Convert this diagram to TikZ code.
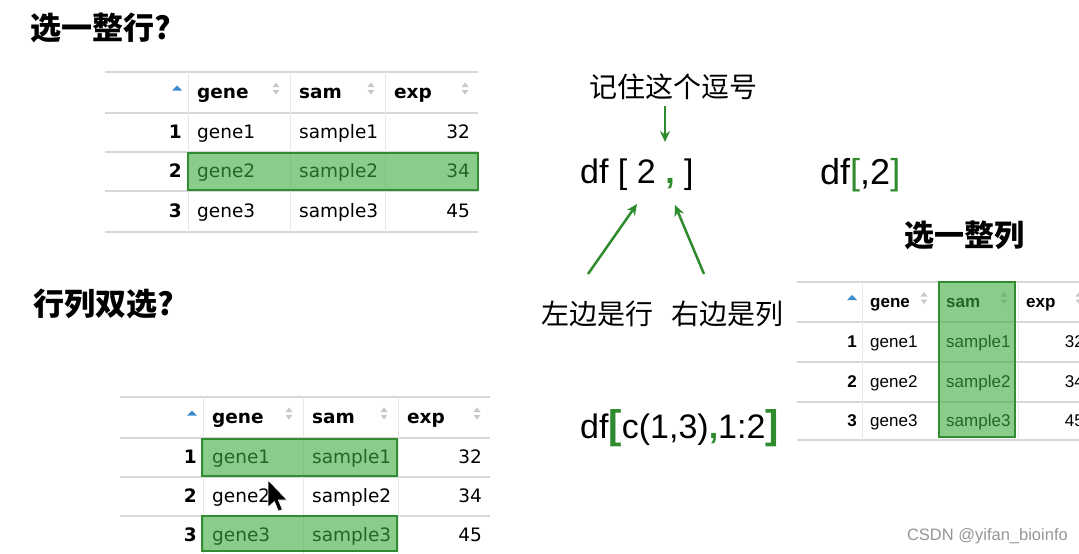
\documentclass[tikz,border=0pt]{standalone}
\usepackage{fontspec}
\setmainfont{Liberation Sans}
\newfontfamily\cjk{Noto Sans CJK SC}
\newfontfamily\tblf{DejaVu Sans}
\usetikzlibrary{arrows.meta}
\definecolor{grn}{RGB}{46,139,46}
\definecolor{hlfill}{RGB}{60,170,60}
\definecolor{hlborder}{RGB}{50,140,50}
\definecolor{gridc}{RGB}{215,215,215}
\definecolor{vgridc}{RGB}{232,232,232}
\definecolor{sortc}{RGB}{200,200,200}
\definecolor{bluec}{RGB}{60,140,205}
\definecolor{markc}{RGB}{150,150,150}
\tikzset{
  hline/.style={draw=gridc, line width=1.2pt},
  vline/.style={draw=vgridc, line width=1pt},
  cell/.style={inner sep=0pt, anchor=mid west},
  num/.style={inner sep=0pt, anchor=mid east},
  hl/.style={fill=hlfill, fill opacity=0.6, draw=hlborder, draw opacity=1, line width=2.5pt},
  garrow/.style={draw=grn, line width=2.5pt, -{Stealth[length=11pt,width=10pt]}},
  lbl/.style={inner sep=0pt},
}
\newcommand\sorticon[2]{%
  \fill[sortc] (#1-3.5,#2-1.5) -- (#1+3.5,#2-1.5) -- (#1,#2-6) -- cycle;
  \fill[sortc] (#1-3.5,#2+1.5) -- (#1+3.5,#2+1.5) -- (#1,#2+6) -- cycle;}
\newcommand\mytable[2]{%
  \pgfmathsetmacro\ra{(\ya+\yb)/2}%
  \pgfmathsetmacro\rb{(\yb+\yc)/2+3}%
  \pgfmathsetmacro\rc{(\yc+\yd)/2+3}%
  \pgfmathsetmacro\rd{(\yd+\ye)/2+3}%
  \draw[hline] (\xa,\ya) -- (\xe,\ya);
  \foreach \yy in {\yb,\yc,\yd,\ye} {\draw[hline] (\xa,\yy) -- (\xe,\yy);}
  \foreach \xx in {\xb,\xc,\xd} {\draw[vline] (\xx,\ya) -- (\xx,\ye);}
  \fill[bluec] (\xb-\np-10,\ra-2) -- (\xb-\np,\ra-2) -- (\xb-\np-5,\ra-7) -- cycle;
  \node[cell,font=#2\bfseries] (#1h1) at (\xb+\lp,\ra+3) {gene};
  \node[cell,font=#2\bfseries] (#1h2) at (\xc+\lp,\ra+3) {sam};
  \node[cell,font=#2\bfseries] (#1h3) at (\xd+\lp,\ra+3) {exp};
  \sorticon{\xc-14}{\ra-4}
  \sorticon{\xd-14}{\ra-4}
  \sorticon{\xe-13}{\ra-4}
  \foreach \i/\r/\v in {1/\rb/32, 2/\rc/34, 3/\rd/45} {
    \node[num,font=#2\bfseries] (#1n\i) at (\xb-\np,\r) {\i};
    \node[cell,font=#2] (#1g\i) at (\xb+\lp,\r) {gene\i};
    \node[cell,font=#2] (#1s\i) at (\xc+\lp,\r) {sample\i};
    \node[num,font=#2] (#1e\i) at (\xe-\rp,\r) {\v};
  }
}
\begin{document}
\begin{tikzpicture}[x=1pt,y=-1pt]
\useasboundingbox (0,0) rectangle (1079,554);
\clip (0,0) rectangle (1079,554);
\fill[white] (0,0) rectangle (1079,554);

% table 1
\def\xa{105}\def\xb{188}\def\xc{290}\def\xd{385}\def\xe{478}
\def\ya{72}\def\yb{113}\def\yc{152}\def\yd{191}\def\ye{232}
\def\lp{9}\def\rp{8}\def\np{6}
\mytable{ta}{\tblf\fontsize{18.5}{20}\selectfont}
\draw[hl] (188,153) rectangle (478,190);

% table 2
\def\xa{120}\def\xb{203}\def\xc{303}\def\xd{398}\def\xe{490}
\def\ya{397}\def\yb{438}\def\yc{477}\def\yd{516}\def\ye{555}
\mytable{tb}{\tblf\fontsize{18.5}{20}\selectfont}
\draw[hl] (202,439) rectangle (397,476);
\draw[hl] (202,516) rectangle (397,551);
% mouse cursor
\begin{scope}[shift={(268,480)}, scale=1.6]
  \filldraw[fill=black, draw=white, line width=0.7pt]
    (0,0) -- (0,17) -- (4,13.5) -- (6.5,19.5) -- (9,18.5) -- (6.5,12.5) -- (12,12.5) -- cycle;
\end{scope}

% table 3
\def\xa{797}\def\xb{862}\def\xc{938}\def\xd{1018}\def\xe{1092}
\def\ya{282}\def\yb{322}\def\yc{362}\def\yd{402}\def\ye{440}
\def\lp{8}\def\rp{8}\def\np{5}
\mytable{tc}{\fontsize{17}{18}\selectfont}
\draw[hl] (939,282) rectangle (1015,437);

% titles
\node[lbl, anchor=west, font=\cjk\bfseries\fontsize{31}{36}\selectfont] (t1) at (30,28) {选一整行?};
\node[lbl, anchor=west, font=\cjk\bfseries\fontsize{31}{36}\selectfont] (t2) at (33,304) {行列双选?};
\node[lbl, font=\cjk\bfseries\fontsize{30}{36}\selectfont] (t3) at (964,235) {选一整列};

% center annotations
\node[lbl, font=\cjk\fontsize{28}{32}\selectfont] (memo) at (673,87) {记住这个逗号};
\coordinate (m0) at (665,106);
\coordinate (m1) at (665,142);
\draw[garrow] (m0) -- (m1);

\node[lbl, anchor=west, font=\fontsize{34}{40}\selectfont] (df1) at (580,175) {df [ 2 \textcolor{grn}{\textbf{,}} ]};
\node[lbl, font=\cjk\fontsize{28}{32}\selectfont] (left) at (597,314) {左边是行};
\node[lbl, font=\cjk\fontsize{28}{32}\selectfont] (right) at (727,314) {右边是列};
\coordinate (a1s) at (588,274);
\coordinate (a1e) at (637,204);
\coordinate (a2s) at (704,274);
\coordinate (a2e) at (675,205);
\draw[garrow] (a1s) -- (a1e);
\draw[garrow] (a2s) -- (a2e);

\node[lbl, anchor=west, font=\fontsize{36}{40}\selectfont] (df2) at (820,175) {df\textcolor{grn}{[},2\textcolor{grn}{]}};

\node[lbl, anchor=west, font=\fontsize{34}{40}\selectfont] (df3) at (580,428)
  {df\textcolor{grn}{\fontsize{40}{40}\selectfont\bfseries[}c(1,3)\textcolor{grn}{\textbf{,}}1:2\textcolor{grn}{\fontsize{40}{40}\selectfont\bfseries]}};

\node[lbl, anchor=east, text=markc, font=\fontsize{16.5}{18}\selectfont] (wm) at (1068,536) {CSDN @yifan\_bioinfo};
\end{tikzpicture}
\end{document}
